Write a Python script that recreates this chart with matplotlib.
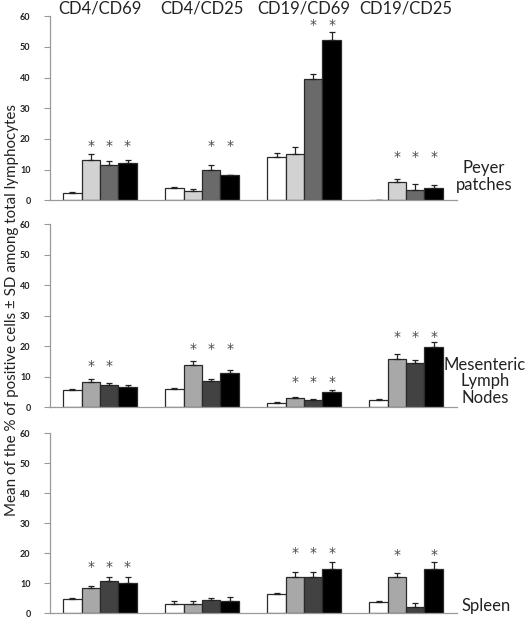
import numpy as np
import matplotlib
matplotlib.use('Agg')
import matplotlib.pyplot as plt

plt.rcParams['font.family'] = ['Lato', 'DejaVu Sans']

markers = ['CD4/CD69', 'CD4/CD25', 'CD19/CD69', 'CD19/CD25']
organs = ['Peyer\npatches', 'Mesenteric\nLymph\nNodes', 'Spleen']

# Peyer patches: mean and SD, 4 groups per marker
pp_mean = [[2.5, 4.1, 14.2, 0.2],
           [13.2, 3.1, 15.2, 6.1],
           [11.6, 9.7, 39.6, 3.5],
           [12.3, 8.1, 52.3, 4.0]]
pp_sd = [[0.2, 0.2, 1.3, 0.0],
         [2.0, 0.5, 2.2, 0.9],
         [1.1, 1.9, 1.4, 1.9],
         [0.8, 0.0, 2.5, 1.1]]

# mesenteric lymph nodes
mln_mean = [[5.5, 5.8, 1.3, 2.4],
            [8.3, 13.9, 2.9, 15.9],
            [7.2, 8.4, 2.4, 14.5],
            [6.5, 11.1, 5.0, 19.7]]
mln_sd = [[0.3, 0.6, 0.3, 0.2],
          [1.0, 1.3, 0.4, 1.4],
          [0.7, 0.9, 0.2, 0.8],
          [0.6, 1.0, 0.6, 1.6]]

# spleen
sp_mean = [[4.8, 3.2, 6.3, 3.7],
           [8.4, 3.2, 12.0, 11.9],
           [10.6, 4.5, 12.0, 2.2],
           [10.0, 4.0, 14.7, 14.7]]
sp_sd = [[0.4, 0.9, 0.4, 0.3],
         [0.7, 0.9, 1.7, 1.6],
         [1.4, 0.5, 1.7, 1.3],
         [2.0, 1.5, 2.2, 2.4]]

# significance stars: bars marked in each marker group, and level of the stars
pp_stars = [[1, 2, 3], [2, 3], [2, 3], [1, 2, 3]]
pp_star_y = [17.7, 17.7, 57.0, 14.1]
mln_stars = [[1, 2], [1, 2, 3], [1, 2, 3], [1, 2, 3]]
mln_star_y = [13.3, 19.0, 8.1, 23.1]
sp_stars = [[1, 2, 3], [], [1, 2, 3], [1, 3]]
sp_star_y = [15.5, 0, 20.1, 19.3]

top_colors = ['white', '#d2d2d2', '#6a6a6a', 'black']
low_colors = ['white', '#a8a8a8', '#424242', 'black']

panels = [
    (pp_mean, pp_sd, pp_stars, pp_star_y, top_colors),
    (mln_mean, mln_sd, mln_stars, mln_star_y, low_colors),
    (sp_mean, sp_sd, sp_stars, sp_star_y, low_colors),
]

fig = plt.figure(figsize=(5.28, 6.2), dpi=100)
boxes = [(0.0947, 0.677, 0.771, 0.297),
         (0.0947, 0.3435, 0.771, 0.2952),
         (0.0947, 0.0110, 0.771, 0.2906)]
label_pos = [(0.917, 0.715), (0.918, 0.385), (0.921, 0.022)]

x = np.arange(len(markers))
w = 0.18
offs = (np.arange(4) - 1.5) * w

for k, (mean, sd, stars, star_y, cols) in enumerate(panels):
    ax = fig.add_axes(boxes[k])
    for i in range(4):
        ax.bar(x + offs[i], mean[i], w, color=cols[i], edgecolor='#2a2a2a',
               linewidth=0.9, yerr=[np.zeros(4), sd[i]],
               error_kw=dict(ecolor='#222222', elinewidth=0.9, capsize=2.5, capthick=0.9))
    for g in range(4):
        for b in stars[g]:
            ax.text(x[g] + offs[b], star_y[g], '*', ha='center', va='center',
                    fontsize=10, color='#4a4a4a', family='DejaVu Sans')
    ax.set_xlim(-0.49, 3.5)
    ax.set_ylim(0, 60)
    ax.set_yticks(range(0, 61, 10))
    ax.set_xticks([])
    for s in ['top', 'right']:
        ax.spines[s].set_visible(False)
    for s in ['left', 'bottom']:
        ax.spines[s].set_color('#9a9a9a')
        ax.spines[s].set_linewidth(0.9)
    ax.tick_params(axis='y', length=4, width=0.8, color='#9a9a9a', pad=10,
                   labelsize=6.5, labelcolor='#222222')
    for t in ax.get_yticklabels():
        t.set_fontweight('bold')
    if k == 0:
        for g in range(4):
            ax.text(x[g], 62.4, markers[g], ha='center', va='center',
                    fontsize=12, color='#222222', clip_on=False)
    fig.text(label_pos[k][0], label_pos[k][1], organs[k], ha='center', va='center',
             fontsize=12, color='#222222', linespacing=1.05)

fig.text(0.022, 0.5, 'Mean of the % of positive cells \u00b1 SD among total lymphocytes',
         rotation=90, ha='center', va='center', fontsize=10.9, color='#222222')

fig.savefig('out.png', dpi=100)
